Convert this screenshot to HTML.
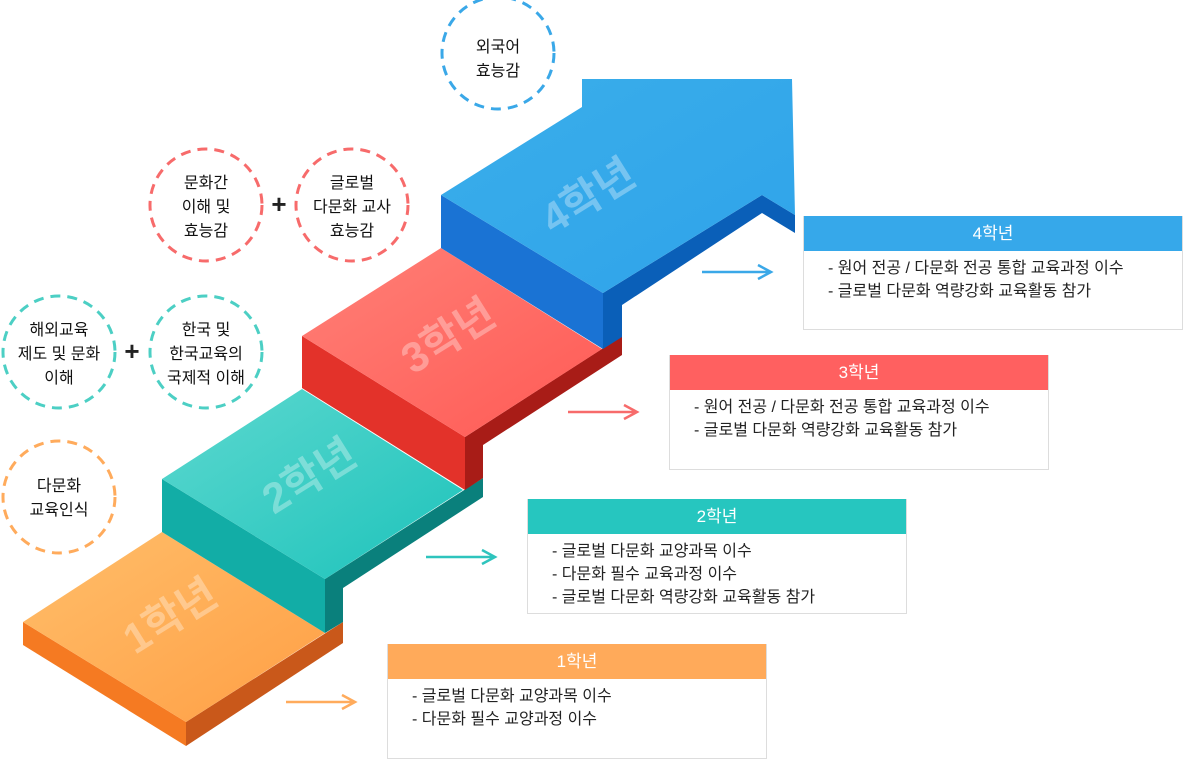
<!DOCTYPE html>
<html><head><meta charset="utf-8"><style>
html,body{margin:0;padding:0;background:#fff;width:1184px;height:759px;overflow:hidden;font-family:"Liberation Sans","Noto Sans CJK KR",sans-serif}
.box{position:absolute;width:380px;background:#fff;border:1px solid #ddd;border-top:none;box-sizing:border-box}
.box .h{height:35px;line-height:35px;color:#fff;text-align:center;font-size:17px}
.box ul{margin:0;padding:6px 0 0 24px;list-style:none;font-size:16px;line-height:23px;color:#222}
</style></head><body>
<svg width="1184" height="759" style="position:absolute;left:0;top:0" font-family="Liberation Sans, Noto Sans CJK KR, sans-serif">
<defs>
<linearGradient id="o" x1="0" y1="0" x2="1" y2="1"><stop offset="0" stop-color="#ffbe6a"/><stop offset="1" stop-color="#ff9f45"/></linearGradient>
<linearGradient id="t" x1="0" y1="0" x2="1" y2="1"><stop offset="0" stop-color="#5dd8cf"/><stop offset="1" stop-color="#1dc3bb"/></linearGradient>
<linearGradient id="r" x1="0" y1="0" x2="1" y2="1"><stop offset="0" stop-color="#ff8077"/><stop offset="1" stop-color="#ff5a55"/></linearGradient>
<linearGradient id="b" x1="0" y1="0" x2="1" y2="1"><stop offset="0" stop-color="#3aaeea"/><stop offset="1" stop-color="#2fa3ea"/></linearGradient>
</defs>
<polygon points="23,622 186,722 186,746 23,645" fill="#f57a22"/>
<polygon points="186,722 343,622 343,643 186,746" fill="#c9581a"/>
<polygon points="23,622 162,532 325,633 186,722" fill="url(#o)"/>
<polygon points="162,479 325,579 325,633 162,532" fill="#12ada6"/>
<polygon points="325,579 483,478 483,497 343,588 343,622 325,633" fill="#0a807c"/>
<polygon points="162,479 302,389 463,490 325,579" fill="url(#t)"/>
<polygon points="302,336 465,437 465,490 302,388" fill="#e3322a"/>
<polygon points="465,437 622,336 622,355 483,445 483,478 465,490" fill="#a81c17"/>
<polygon points="302,336 441,248 602,349 465,437" fill="url(#r)"/>
<polygon points="441,195 603,293 603,349 441,248" fill="#1a73d4"/>
<polygon points="603,293 762,195 795,215 795,233 762,213 622,305 622,337 603,349" fill="#0a5fb8"/>
<polygon points="582,79 602,93 582,107" fill="#0a6cd0"/>
<polygon points="441,195 582,107 582,79 792,79 795,215 762,195 603,293" fill="url(#b)"/>
<g fill="#fff" fill-opacity="0.32" font-weight="bold" font-size="42">
<text transform="translate(135,655) rotate(-32)">1학년</text>
<text transform="translate(274,515) rotate(-32)">2학년</text>
<text transform="translate(413,375) rotate(-32)">3학년</text>
<text transform="translate(553,235) rotate(-32)">4학년</text>
</g>
<g fill="none" stroke-width="3" stroke-dasharray="10 7">
<circle cx="498" cy="53" r="56" stroke="#3aa8e8"/>
<circle cx="206" cy="205" r="56" stroke="#f76b6b"/>
<circle cx="352" cy="205" r="56" stroke="#f76b6b"/>
<circle cx="59" cy="352" r="56" stroke="#4ccfc4"/>
<circle cx="206" cy="352" r="56" stroke="#4ccfc4"/>
<circle cx="59" cy="497" r="56" stroke="#ffab5c"/>
</g>
<g font-size="16" fill="#111" text-anchor="middle">
<text x="498" y="52">외국어</text><text x="498" y="76">효능감</text>
<text x="206" y="188">문화간</text><text x="206" y="212">이해 및</text><text x="206" y="236">효능감</text>
<text x="352" y="188">글로벌</text><text x="352" y="212">다문화 교사</text><text x="352" y="236">효능감</text>
<text x="59" y="335">해외교육</text><text x="59" y="359">제도 및 문화</text><text x="59" y="383">이해</text>
<text x="206" y="335">한국 및</text><text x="206" y="359">한국교육의</text><text x="206" y="383">국제적 이해</text>
<text x="59" y="491">다문화</text><text x="59" y="515">교육인식</text>
</g>
<g font-size="26" font-weight="bold" fill="#222" text-anchor="middle">
<text x="279" y="213">+</text><text x="132" y="360">+</text>
</g>
<g stroke-width="2.5" fill="none">
<path d="M702 272 H770 M758 265 L771 272 L758 279" stroke="#3aa8e8"/>
<path d="M568 412 H636 M624 405 L637 412 L624 419" stroke="#f76b6b"/>
<path d="M426 557 H494 M482 550 L495 557 L482 564" stroke="#2ec4bd"/>
<path d="M286 702 H354 M342 695 L355 702 L342 709" stroke="#ffab5c"/>
</g>
</svg>
<div class="box" style="left:803px;top:216px;height:114px"><div class="h" style="background:#36a8ea">4학년</div><ul><li>- 원어 전공 / 다문화 전공 통합 교육과정 이수</li><li>- 글로벌 다문화 역량강화 교육활동 참가</li></ul></div>
<div class="box" style="left:669px;top:355px;height:115px"><div class="h" style="background:#ff6060">3학년</div><ul><li>- 원어 전공 / 다문화 전공 통합 교육과정 이수</li><li>- 글로벌 다문화 역량강화 교육활동 참가</li></ul></div>
<div class="box" style="left:527px;top:499px;height:115px"><div class="h" style="background:#26c6bf">2학년</div><ul><li>- 글로벌 다문화 교양과목 이수</li><li>- 다문화 필수 교육과정 이수</li><li>- 글로벌 다문화 역량강화 교육활동 참가</li></ul></div>
<div class="box" style="left:387px;top:644px;height:115px"><div class="h" style="background:#ffaa5a">1학년</div><ul><li>- 글로벌 다문화 교양과목 이수</li><li>- 다문화 필수 교양과정 이수</li></ul></div>
</body></html>
